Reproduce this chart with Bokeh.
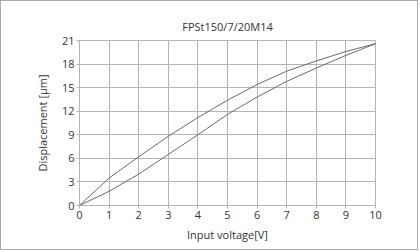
from bokeh.plotting import figure
from bokeh.embed import file_html
from bokeh.resources import INLINE
from bokeh.models import FixedTicker, Range1d

voltage = [0, 1, 2, 3, 4, 5, 6, 7, 8, 9, 10]
disp_up = [0, 3.5, 6.2, 8.8, 11.2, 13.4, 15.4, 17.1, 18.4, 19.6, 20.6]
disp_low = [0, 1.8, 4.0, 6.5, 9.0, 11.6, 13.8, 15.8, 17.5, 19.1, 20.6]
x_ticks = [0, 1, 2, 3, 4, 5, 6, 7, 8, 9, 10]
y_ticks = [0, 3, 6, 9, 12, 15, 18, 21]

FONT = "Open Sans"
GRID = "#b4b4b4"
TXT = "#333333"

p = figure(width=418, height=250, output_backend="svg", toolbar_location=None,
           x_range=Range1d(0, 10), y_range=Range1d(0, 21),
           title="FPSt150/7/20M14",
           min_border_left=78, min_border_right=44, min_border_top=39, min_border_bottom=46)
p.styles = {"border": "1px solid #aaaaaa"}

p.title.align = "center"
p.title.text_font = FONT
p.title.text_font_size = "11px"
p.title.text_font_style = "normal"
p.title.text_color = TXT
p.title.offset = 0
p.title.standoff = 13

p.line(voltage, disp_up, line_color="#6a6a6a", line_width=1)
p.line(voltage, disp_low, line_color="#6a6a6a", line_width=1)

p.xaxis.ticker = FixedTicker(ticks=x_ticks)
p.yaxis.ticker = FixedTicker(ticks=y_ticks)
p.xgrid.ticker = FixedTicker(ticks=x_ticks)
p.ygrid.ticker = FixedTicker(ticks=y_ticks)
p.grid.grid_line_color = GRID
p.grid.grid_line_width = 1
p.outline_line_color = GRID

for ax in (p.xaxis, p.yaxis):
    ax.axis_line_color = GRID
    ax.major_tick_line_color = GRID
    ax.major_tick_in = 0
    ax.major_tick_out = 3
    ax.minor_tick_line_color = None
    ax.major_label_text_font = FONT
    ax.major_label_text_font_size = "11px"
    ax.major_label_text_color = TXT
    ax.axis_label_text_font = FONT
    ax.axis_label_text_font_size = "11px"
    ax.axis_label_text_font_style = "normal"
    ax.axis_label_text_color = TXT

p.xaxis.axis_label = "Input voltage[V]"
p.yaxis.axis_label = "Displacement [µm]"
p.xaxis.major_label_standoff = 2
p.yaxis.major_label_standoff = 2
p.xaxis.axis_label_standoff = 5
p.yaxis.axis_label_standoff = 9

open("out.html", "w").write(file_html(p, INLINE))
